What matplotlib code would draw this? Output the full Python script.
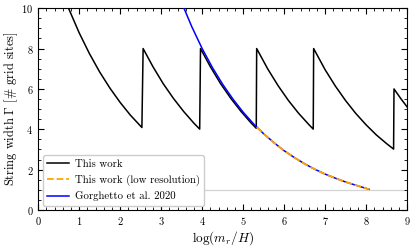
import matplotlib
matplotlib.use("Agg")
import matplotlib.pyplot as plt
from matplotlib.ticker import MultipleLocator

# Computer Modern look
plt.rcParams['font.family'] = 'serif'
plt.rcParams['font.serif'] = ['cmr10', 'DejaVu Serif']
plt.rcParams['mathtext.fontset'] = 'cm'
plt.rcParams['axes.formatter.use_mathtext'] = True

# This work (sawtooth)
x_this = [0.74, 1.0, 1.25, 1.5, 1.75, 2.0, 2.25, 2.53,
          2.56, 2.8, 3.05, 3.3, 3.55, 3.8, 3.94,
          3.96, 4.2, 4.45, 4.7, 4.95, 5.2, 5.32,
          5.33, 5.6, 5.85, 6.1, 6.35, 6.6, 6.71,
          6.72, 7.0, 7.25, 7.5, 7.75, 8.0, 8.25, 8.5, 8.67,
          8.68, 8.85, 9.0]
y_this = [10.0, 8.78, 7.75, 6.84, 6.04, 5.33, 4.70, 4.09,
          8.0, 7.10, 6.26, 5.53, 4.88, 4.30, 4.01,
          8.0, 7.10, 6.26, 5.53, 4.88, 4.30, 4.05,
          8.0, 6.99, 6.17, 5.44, 4.80, 4.24, 4.01,
          8.0, 6.95, 6.14, 5.42, 4.78, 4.22, 3.72, 3.29, 3.02,
          6.0, 5.51, 5.11]

# Gorghetto et al. 2020
x_gor = [3.5, 3.75, 4.0, 4.25, 4.5, 4.75, 5.0, 5.25, 5.5, 5.75, 6.0,
         6.25, 6.5, 6.75, 7.0, 7.25, 7.5, 7.75, 8.07]
y_gor = [10.27, 9.07, 8.0, 7.06, 6.23, 5.50, 4.85, 4.28, 3.78, 3.34, 2.94,
         2.60, 2.29, 2.02, 1.78, 1.58, 1.39, 1.23, 1.03]

# This work (low resolution)
x_low = [5.33, 5.5, 5.75, 6.0, 6.25, 6.5, 6.75, 7.0, 7.25, 7.5, 7.75, 8.07]
y_low = [4.10, 3.78, 3.34, 2.94, 2.60, 2.29, 2.02, 1.78, 1.58, 1.39, 1.23, 1.03]

fig = plt.figure(figsize=(4.15, 2.48), dpi=100)
ax = fig.add_axes([0.092, 0.153, 0.889, 0.814])

ax.axhline(1, color='lightgrey', lw=0.9, zorder=1)
ax.plot(x_this, y_this, color='black', lw=1.1, label='This work', zorder=2)
ax.plot(x_low, y_low, color='orange', lw=1.3, ls='--', label='This work (low resolution)', zorder=4)
ax.plot(x_gor, y_gor, color='blue', lw=1.1, label='Gorghetto et al. 2020', zorder=3)

ax.set_xlim(0, 9)
ax.set_ylim(0, 10)
ax.xaxis.set_major_locator(MultipleLocator(1))
ax.xaxis.set_minor_locator(MultipleLocator(0.2))
ax.yaxis.set_major_locator(MultipleLocator(2))
ax.yaxis.set_minor_locator(MultipleLocator(0.5))
ax.tick_params(which='both', direction='in', top=True, right=True, labelsize=7.5)
ax.tick_params(which='major', length=4, width=0.8)
ax.tick_params(which='minor', length=2, width=0.6)

ax.set_xlabel(r'$\log(m_r/H)$', fontsize=9.5, labelpad=2)
ax.set_ylabel(r'String width $\Gamma$ [# grid sites]', fontsize=8.9, labelpad=1)

ax.legend(loc='lower left', fontsize=7.8, handlelength=2.0, handletextpad=0.6,
          borderaxespad=0.4, framealpha=1)

fig.savefig('out.png', dpi=100)
